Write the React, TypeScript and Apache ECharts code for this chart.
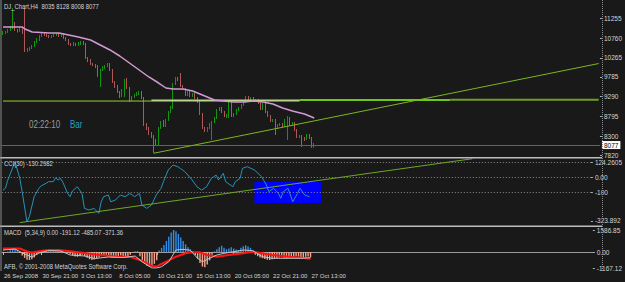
import React, { useEffect, useRef } from "react";
import * as echarts from "echarts";

const W = 625;
const H = 282;
const SLOT_COUNT = 246;

// ---- price candles (H4) ----
const opens = [10861, 10886, 10911, 10961, 11011, 11136, 10961, 10936, 11011, 10886,
  10434, 10460, 10510, 10560, 10660, 10710, 10810, 10861, 10836, 10810,
  10785, 10810, 10836, 10861, 10810, 10861, 10760, 10710, 10610, 10585,
  10610, 10585, 10610, 10660, 10610, 10259, 10209, 10108, 10083, 10058,
  9808, 9958, 10008, 10058, 10108, 9958, 9657, 9557, 9407, 9306,
  9331, 9707, 9507, 9206, 9281, 9331, 9356, 9407, 9256, 8604,
  8504, 8354, 8303, 8203, 8128, 8504, 8654, 8554, 8705, 8905,
  9005, 9607, 9732, 9707, 9557, 9482, 9331, 9407, 9306, 9356,
  9256, 9156, 8855, 8504, 8429, 8504, 8604, 8654, 8755, 8955,
  9005, 8905, 8805, 8805, 9156, 8805, 8855, 8955, 9005, 9081,
  9156, 9281, 9231, 9256, 9181, 9206, 9131, 8980, 9106, 8905,
  8805, 8680, 8705, 8504, 8579, 8604, 8554, 8579, 8755, 8579,
  8629, 8454, 8278, 8303, 8253, 8228, 8328, 8253, 8035];
const closes = [10886, 10911, 10961, 11011, 11136, 10961, 10936, 11011, 10886, 10434,
  10460, 10510, 10560, 10660, 10710, 10810, 10861, 10836, 10810, 10785,
  10810, 10836, 10861, 10810, 10861, 10760, 10710, 10610, 10585, 10610,
  10585, 10610, 10660, 10610, 10259, 10209, 10108, 10083, 10058, 9808,
  9958, 10008, 10058, 10108, 9958, 9657, 9557, 9407, 9306, 9457,
  9707, 9507, 9206, 9281, 9331, 9356, 9407, 9256, 8604, 8504,
  8354, 8303, 8203, 8128, 8504, 8654, 8554, 8705, 8905, 9005,
  9607, 9732, 9707, 9557, 9482, 9331, 9407, 9306, 9356, 9256,
  9156, 8855, 8504, 8429, 8504, 8604, 8654, 8755, 8955, 9005,
  8905, 8805, 8805, 9156, 8805, 8855, 8955, 9005, 9081, 9156,
  9281, 9231, 9256, 9181, 9206, 9131, 8980, 9106, 8905, 8805,
  8680, 8705, 8504, 8579, 8604, 8554, 8705, 8755, 8579, 8629,
  8454, 8278, 8303, 8253, 8228, 8328, 8253, 8035, 8077];
const lows = [10836, 10861, 10886, 10936, 10986, 10936, 10900, 10911, 10861, 10410,
  10409, 10434, 10485, 10535, 10635, 10685, 10785, 10810, 10785, 10760,
  10760, 10785, 10810, 10785, 10785, 10735, 10685, 10585, 10560, 10560,
  10560, 10560, 10585, 10585, 10234, 10158, 10083, 10058, 10008, 9783,
  9532, 9933, 9983, 10033, 9933, 9632, 9507, 9382, 9256, 9281,
  9281, 9482, 9156, 9181, 9256, 9306, 9331, 9231, 8554, 8454,
  8328, 8253, 7877, 8078, 8078, 8479, 8529, 8529, 8680, 8880,
  8980, 9582, 9682, 9532, 9457, 9306, 9306, 9281, 9281, 9231,
  9131, 8830, 8479, 8404, 8404, 8479, 8203, 8629, 8730, 8930,
  8880, 8780, 8755, 8755, 8780, 8780, 8830, 8930, 8980, 9056,
  9131, 9206, 9206, 9156, 9156, 9106, 8955, 8955, 8880, 8780,
  8655, 8655, 8329, 8479, 8554, 8529, 8529, 8203, 8554, 8554,
  8429, 8253, 8253, 8028, 8178, 8203, 8228, 8008, 8008];
const highs = [10936, 10936, 10986, 11061, 11512, 11161, 10986, 11036, 11036, 11512,
  10510, 10535, 10585, 10685, 10760, 10836, 10886, 10886, 10861, 10836,
  10836, 10861, 10886, 10886, 10886, 10886, 10785, 10735, 10635, 10660,
  10635, 10660, 10685, 10685, 10635, 10284, 10234, 10133, 10108, 10083,
  9983, 10058, 10083, 10134, 10134, 9983, 9682, 9582, 9432, 9482,
  9732, 9757, 9532, 9306, 9356, 9407, 9432, 9432, 9281, 8629,
  8529, 8404, 8328, 8228, 8529, 8680, 8705, 8730, 8930, 9056,
  9632, 9783, 9783, 9883, 9582, 9507, 9432, 9432, 9382, 9382,
  9281, 9181, 8880, 8529, 8529, 8629, 8680, 8780, 8980, 9031,
  9031, 8930, 8855, 9181, 9181, 8880, 8980, 9031, 9106, 9181,
  9306, 9306, 9281, 9281, 9231, 9231, 9156, 9131, 9131, 8930,
  8830, 8730, 8730, 8604, 8629, 8629, 8730, 8805, 8780, 8655,
  8655, 8479, 8328, 8328, 8278, 8354, 8354, 8278, 8128];

// moving average read at bar indices [bar, value]
const maPoints = [[0, 11036], [8, 11036], [9, 10986], [12, 10911], [19, 10886], [23, 10886],
  [27, 10836], [31, 10785], [36, 10710], [40, 10585], [44, 10460], [48, 10309], [52, 10134],
  [56, 9958], [60, 9783], [64, 9632], [67, 9507], [70, 9482], [74, 9482], [78, 9432],
  [83, 9306], [87, 9206], [91, 9181], [95, 9156], [99, 9156], [103, 9181], [107, 9156],
  [111, 9106], [115, 9005], [119, 8930], [124, 8855], [128, 8755]];

// drawn objects: [fromBar, toBar, price]
const levelLines = [[0, 61, 9180], [61, 122, 9194], [122, 184, 9204], [184, 245, 9214]];
const priceTrend = [[62, 7871], [245, 10120]];

// CCI(30) read at bar indices
const cciPoints = [[0, -85], [1, -73], [2, -18], [4, 62], [5, 104], [6, 49], [7, -5], [8, -96],
  [10, -296], [11, -263], [13, -129], [15, -73], [16, -56], [18, -40], [19, -29], [21, -29],
  [22, -3], [23, -18], [24, -7], [25, -33], [27, -107], [28, -129], [29, -91], [31, -63],
  [33, -107], [34, -207], [36, -218], [38, -207], [40, -240], [41, -163], [42, -129], [44, -118],
  [45, -163], [47, -151], [49, -118], [51, -129], [53, -107], [55, -129], [57, -107], [58, -185],
  [60, -207], [62, -185], [64, -118], [66, -73], [67, -29], [69, 49], [71, 82], [73, 71],
  [74, 60], [76, 37], [79, -18], [81, -63], [83, -85], [85, -63], [87, -7], [89, 15],
  [90, -18], [92, 27], [93, -29], [96, -63], [97, -29], [99, -7], [100, 60], [102, 71],
  [105, 49], [108, 4], [110, -51], [111, -96], [113, -73], [115, -107], [116, -140], [117, -96],
  [119, -73], [120, -118], [121, -163], [123, -107], [124, -73], [126, -118], [128, -130]];
const cciTrend = [[7, -302], [196, 124]];
const cciBox = [[105, -29], [133, -173]];
const cciLevels = [100, 0, -100];

// MACD(5,34,9)
const macdHist = [20, -30, 40, 120, 240, 220, 150, -80, -250, -420,
  -560, -580, -520, -400, -220, -60, 40, 150, 180, 200,
  210, 200, 190, 170, 120, 40, -30, -60, -150, -250,
  -330, -340, -280, -200, -300, -420, -520, -577, -540, -470,
  -380, -300, -250, -200, -330, -400, -430, -380, -300, -250,
  -320, -380, -300, -200, -60, 60, 80, -300, -600, -850,
  -1000, -1060, -1000, -850, -600, 100, 300, 505, 800, 1100,
  1400, 1586, 1500, 1300, 1050, 800, 550, 350, 200, 80,
  -200, -500, -800, -1050, -1100, -900, -600, -200, 50, 200,
  350, 450, 300, 200, 250, 350, 250, 180, 150, 300,
  420, 480, 400, 300, 150, -200, -300, -400, -450, -500,
  -550, -575, -520, -480, -430, -400, -380, -420, -460, -430,
  -380, -350, -300, -330, -370, -380, -350, -330, -371];
const macdSignal = [[0, 250], [7, 250], [10, 36], [12, -36], [17, 108], [23, 144], [27, 72],
  [34, -72], [40, -216], [48, -339], [53, -360], [57, -577], [62, -1009], [64, -1045],
  [65, -937], [68, -700], [72, -339], [76, -94], [79, -22], [82, -22], [85, -216], [89, -339],
  [94, -216], [100, -94], [104, 22], [108, -94], [112, -216], [119, -339], [124, -411], [128, -485]];
const macdMain = [[0, 144], [5, 216], [9, -144], [12, -360], [15, -72], [19, 108], [24, 72],
  [28, -216], [34, -288], [38, -469], [44, -360], [50, -397], [55, -288], [58, -721],
  [62, -1154], [64, -1150], [66, -1060], [69, -700], [72, 144], [75, 195], [78, 122],
  [81, -454], [83, -700], [86, -454], [89, -216], [92, -94], [96, 22], [100, 144], [104, 94],
  [108, -339], [112, -454], [119, -454], [124, -454], [128, -411]];

// axis ticks
const priceTicks = [7820, 8300, 8795, 9290, 9785, 10265, 10760, 11255];
const cciTickPos = [100, 0, -100, -291];
const cciTickLabels = ["124.2605", "0.00", "-100", "-323.892"];
const macdTicks = [1586.85, 0, -1167.12];
const macdTickLabels = ["1586.85", "0.00", "-1167.12"];
const timeTickLabels = ["26 Sep 2008", "30 Sep 21:00", "3 Oct 13:00", "8 Oct 05:00",
  "10 Oct 21:00", "15 Oct 13:00", "20 Oct 05:00", "22 Oct 21:00", "27 Oct 13:00"];
const TICK_EVERY = 16;

const pad = (n: number) => (n < 10 ? "0" + n : "" + n);
function buildTimes(n: number): string[] {
  const out: string[] = [];
  let t = Date.UTC(2008, 8, 26, 5);
  while (out.length < n) {
    const d = new Date(t);
    const wd = d.getUTCDay();
    if (wd !== 0 && wd !== 6) {
      out.push(`${d.getUTCFullYear()}.${pad(d.getUTCMonth() + 1)}.${pad(d.getUTCDate())} ${pad(d.getUTCHours())}:00`);
    }
    t += 4 * 3600 * 1000;
  }
  return out;
}

const BG = "#191919";
const TXT = "#d4d4d4";
const AXIS_FONT = "'Liberation Sans', Arial, sans-serif";
const LEVEL_STYLES = [
  { color: "#93d12c", width: 1 },
  { color: "#b9d48c", width: 2 },
  { color: "#8cff1a", width: 1.5 },
  { color: "#6f9e22", width: 2 },
];

function buildOption() {
  const times = buildTimes(SLOT_COUNT);
  const lastBar = closes.length - 1;
  const showTick = (idx: number) => idx % TICK_EVERY === 0 && idx <= lastBar;
  const grids = [
    { left: 1.8, right: 23, top: 2, height: 155 },
    { left: 1.8, right: 23, top: 158.7, height: 67.2 },
    { left: 1.8, right: 23, top: 230, height: 38.2 },
  ];
  const hiddenX = (gi: number) => ({
    gridIndex: gi, type: "category", data: times, boundaryGap: true, show: false,
  });
  const yLabel = { color: TXT, fontSize: 6.5, fontFamily: AXIS_FONT, margin: 4 };
  const yTick = { show: true, length: 2, lineStyle: { color: "#b0b0b0" } };
  const candleData = closes.map((c, i) => [opens[i], c, lows[i], highs[i]]);
  const candle = {
    type: "candlestick", xAxisIndex: 0, yAxisIndex: 0, data: candleData, barWidth: 1.2,
    z: 3,
    itemStyle: { color: "#22c322", color0: "#eb9494", borderColor: "#129612", borderColor0: "#b35656", borderWidth: 1 },
    markLine: {
      silent: true, symbol: "none", animation: false,
      lineStyle: { color: "#5b6479", width: 1, type: "solid" },
      label: {
        position: "end", formatter: String(closes[lastBar]), backgroundColor: "#ffffff",
        color: "#000000", fontSize: 6.5, fontFamily: AXIS_FONT, padding: [1, 2, 0, 2], distance: 2,
      },
      data: [{ yAxis: closes[lastBar] }],
    },
  };
  const levelSeries = levelLines.map((l, k) => ({
    type: "line", xAxisIndex: 0, yAxisIndex: 0, symbol: "none", silent: true, z: 4,
    data: [[l[0], l[2]], [l[1], l[2]]],
    lineStyle: { color: LEVEL_STYLES[k].color, width: LEVEL_STYLES[k].width },
  }));
  const lookup = (vals: number[], labels: string[]) => (v: number) => {
    const k = vals.findIndex((x) => Math.abs(x - v) < 1e-6);
    return k >= 0 ? labels[k] : "";
  };
  return {
    animation: false,
    backgroundColor: BG,
    grid: grids,
    xAxis: [
      hiddenX(0),
      hiddenX(1),
      {
        gridIndex: 2, type: "category", data: times, boundaryGap: true, offset: 3,
        axisLine: { show: true, lineStyle: { color: "#9a9a9a", width: 1 } },
        axisTick: { show: true, alignWithLabel: true, interval: showTick, length: 3, lineStyle: { color: "#c0c0c0" } },
        axisLabel: {
          show: true, interval: showTick, align: "left", color: TXT, fontSize: 6,
          fontFamily: AXIS_FONT, margin: 1.5, showMinLabel: true, showMaxLabel: true,
          padding: [0, 0, 0, 1],
          formatter: (_v: string, i: number) => timeTickLabels[i / TICK_EVERY] ?? "",
        },
        splitLine: { show: false },
      },
    ],
    yAxis: [
      {
        gridIndex: 0, type: "value", position: "right", min: 7777, max: 11663,
        splitLine: { show: false }, axisLine: { show: false },
        axisTick: { ...yTick, customValues: priceTicks },
        axisLabel: { ...yLabel, customValues: priceTicks, formatter: (v: number) => String(v) },
      },
      {
        gridIndex: 1, type: "value", position: "right", min: -323.892, max: 124.2605,
        splitLine: { show: false }, axisLine: { show: false },
        axisTick: { ...yTick, customValues: cciTickPos },
        axisLabel: { ...yLabel, customValues: cciTickPos, formatter: lookup(cciTickPos, cciTickLabels) },
      },
      {
        gridIndex: 2, type: "value", position: "right", min: -1167.12, max: 1586.85,
        splitLine: { show: false }, axisLine: { show: false },
        axisTick: { ...yTick, customValues: macdTicks },
        axisLabel: { ...yLabel, customValues: macdTicks, formatter: lookup(macdTicks, macdTickLabels) },
      },
    ],
    series: [
      ...levelSeries,
      candle,
      {
        type: "line", xAxisIndex: 0, yAxisIndex: 0, data: maPoints, symbol: "none", silent: true, z: 5,
        lineStyle: { color: "#d29ad2", width: 1.5 },
      },
      {
        type: "line", xAxisIndex: 0, yAxisIndex: 0, data: priceTrend, symbol: "none", silent: true, z: 6,
        lineStyle: { color: "#7fb51e", width: 1 },
      },
      {
        type: "line", xAxisIndex: 1, yAxisIndex: 1, data: [], symbol: "none", silent: true, z: 1,
        markArea: {
          silent: true, z: 1,
          itemStyle: { color: "#0000ff", opacity: 1 },
          data: [[{ coord: cciBox[0] }, { coord: cciBox[1] }]],
        },
      },
      {
        type: "line", xAxisIndex: 1, yAxisIndex: 1, data: cciPoints, symbol: "none", silent: true, z: 4,
        lineStyle: { color: "#2494b8", width: 1 },
        markLine: {
          silent: true, symbol: "none", animation: false, label: { show: false },
          lineStyle: { color: "#8a8a8a", width: 1, type: [1, 2] },
          data: cciLevels.map((v) => ({ yAxis: v })),
        },
      },
      {
        type: "line", xAxisIndex: 1, yAxisIndex: 1, data: cciTrend, symbol: "none", silent: true, z: 5,
        lineStyle: { color: "#6ea823", width: 1 },
      },
      {
        type: "bar", xAxisIndex: 2, yAxisIndex: 2, data: macdHist, barWidth: 1.4, silent: true, z: 2,
        itemStyle: { color: (p: any) => (p.value >= 0 ? "#2f8fee" : "#f5a48b") },
      },
      {
        type: "line", xAxisIndex: 2, yAxisIndex: 2, data: macdSignal, symbol: "none", silent: true, z: 4,
        lineStyle: { color: "#ff1414", width: 2 },
      },
      {
        type: "line", xAxisIndex: 2, yAxisIndex: 2, data: macdMain, symbol: "none", silent: true, z: 5,
        lineStyle: { color: "#c4c4c4", width: 1 },
      },
    ],
    graphic: [
      { type: "rect", silent: true, z: 50, shape: { x: 0, y: 157, width: 602, height: 1.6 }, style: { fill: "#bdbdbd" } },
      { type: "rect", silent: true, z: 50, shape: { x: 0, y: 225.4, width: 602, height: 1.6 }, style: { fill: "#bdbdbd" } },
      { type: "rect", silent: true, z: 50, shape: { x: 0.5, y: 0, width: 1, height: 271 }, style: { fill: "#8c8c8c" } },
      { type: "line", silent: true, z: 50, shape: { x1: 602.5, y1: 0, x2: 602.5, y2: 271 }, style: { stroke: "#8a8a8a", lineWidth: 1, lineDash: [1, 1] } },
      {
        type: "text", silent: true, z: 60, x: 4, y: 6.3, scaleX: 0.74,
        style: { text: `DJ_Chart,H4  ${opens[lastBar]} ${highs[lastBar]} ${lows[lastBar]} ${closes[lastBar]}`, fill: TXT, fontSize: 8, fontFamily: "'Liberation Sans', Arial", verticalAlign: "middle" },
      },
      {
        type: "text", silent: true, z: 60, x: 29, y: 125, scaleX: 0.8,
        style: { text: "02:22:10", fill: "#9c9c9c", fontSize: 10, fontFamily: "'Liberation Sans', Arial", verticalAlign: "middle" },
      },
      {
        type: "text", silent: true, z: 60, x: 70, y: 125, scaleX: 0.8,
        style: { text: "Bar", fill: "#1ba3c6", fontSize: 10, fontFamily: "'Liberation Sans', Arial", verticalAlign: "middle" },
      },
      {
        type: "text", silent: true, z: 60, x: 4, y: 163.5, scaleX: 0.74,
        style: { text: "CCI(30) -130.2982", fill: TXT, fontSize: 8, fontFamily: "'Liberation Sans', Arial", verticalAlign: "middle" },
      },
      {
        type: "text", silent: true, z: 60, x: 4, y: 232.5, scaleX: 0.74,
        style: { text: "MACD  (5,34,9) 0.00 -191.12 -485.07 -371.36", fill: TXT, fontSize: 8, fontFamily: "'Liberation Sans', Arial", verticalAlign: "middle" },
      },
      {
        type: "text", silent: true, z: 60, x: 4, y: 266, scaleX: 0.74,
        style: { text: "AFB, © 2001-2008 MetaQuotes Software Corp.", fill: TXT, fontSize: 8, fontFamily: "'Liberation Sans', Arial", verticalAlign: "middle" },
      },
    ],
  };
}

export default function App() {
  const ref = useRef<HTMLDivElement>(null);
  useEffect(() => {
    document.body.style.margin = "0";
    if (!ref.current) return;
    const chart = echarts.init(ref.current, null, { renderer: "svg", width: W, height: H });
    chart.setOption(buildOption() as any);
    return () => chart.dispose();
  }, []);
  return <div ref={ref} style={{ width: W, height: H }} />;
}
